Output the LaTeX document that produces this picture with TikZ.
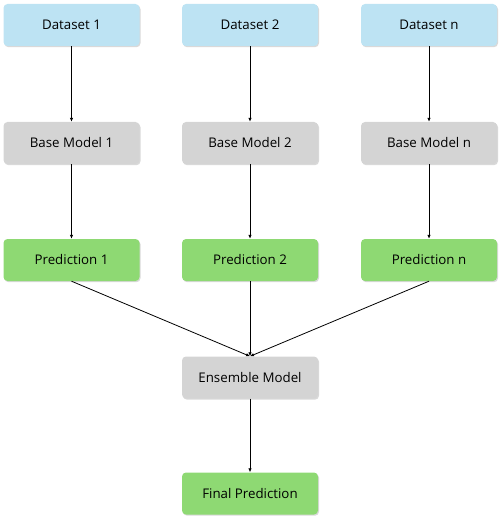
\documentclass[tikz,border=0pt]{standalone}
\usepackage{fontspec}
\setmainfont{Open Sans}
\usepackage{tikz}
\usetikzlibrary{shadows,arrows.meta}
\definecolor{databox}{HTML}{BDE3F3}
\definecolor{modelbox}{HTML}{D4D4D4}
\definecolor{predbox}{HTML}{8ED973}
\tikzset{
  block/.style={rounded corners=4pt, minimum width=136pt, minimum height=42pt,
    inner sep=0pt, font=\fontsize{13.3}{15}\selectfont,
    drop shadow={shadow xshift=1pt, shadow yshift=-1.2pt, opacity=0.25, fill=black!60}},
  link/.style={-{Latex[length=4pt,width=3.5pt]}, line width=0.8pt}
}
\begin{document}
\begin{tikzpicture}[x=1pt,y=-1pt]
				\useasboundingbox (0,0) rectangle (502,521);
				
				\node[block, fill=databox] (data1) at (71.5,25) {Dataset 1};
				\node[block, fill=databox] (data2) at (250,25) {Dataset 2};
				\node[block, fill=databox] (datan) at (429,25) {Dataset n};
				
				\node[block, fill=modelbox] (base1) at (71.5,143) {Base Model 1};
				\node[block, fill=modelbox] (base2) at (250,143) {Base Model 2};
				\node[block, fill=modelbox] (basen) at (429,143) {Base Model n};
				
				\node[block, fill=predbox] (pred1) at (71.5,260) {Prediction 1};
				\node[block, fill=predbox] (pred2) at (250,260) {Prediction 2};
				\node[block, fill=predbox] (predn) at (429,260) {Prediction n};
				
				\node[block, fill=modelbox] (ensemble) at (250,377.5) {Ensemble Model};
				\node[block, fill=predbox] (final) at (250,493.5) {Final Prediction};
				
				\foreach \i in {1,2,n} {
					\draw[link] (data\i.south) -- (base\i.north);
					\draw[link] (base\i.south) -- (pred\i.north);
					\draw[link] (pred\i.south) -- (ensemble.north);
				}
				\draw[link] (ensemble.south) -- (final.north);
			\end{tikzpicture}
\end{document}
